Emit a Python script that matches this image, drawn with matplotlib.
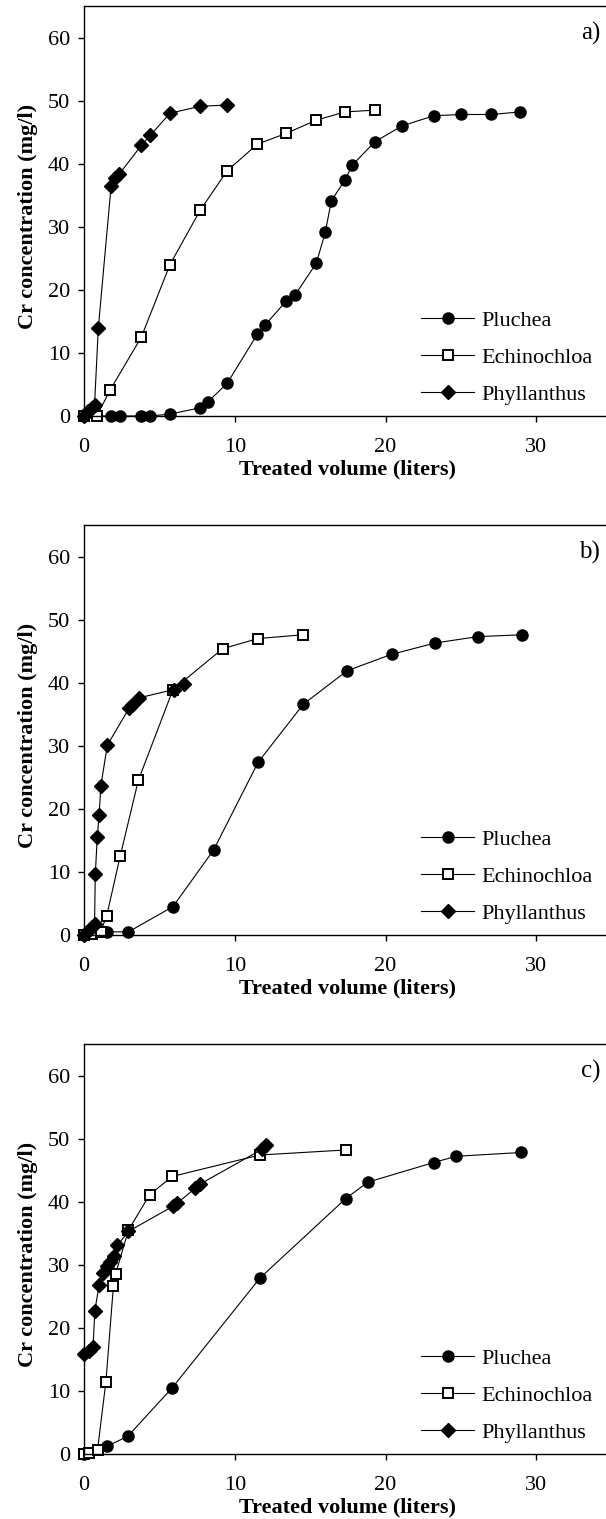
import matplotlib
matplotlib.use("Agg")
import matplotlib.pyplot as plt

plt.rcParams["font.family"] = ["Liberation Serif", "DejaVu Serif"]

# ---- data: Cr breakthrough curves for three plant-based sorbents ----
species = ["Pluchea", "Echinochloa", "Phyllanthus"]
panel_tags = ["a)", "b)", "c)"]

# panel a
a_pluchea_x = [0, 1.8, 2.4, 3.8, 4.4, 5.7, 7.7, 8.2, 9.5, 11.5, 12.0, 13.4, 14.0,
               15.4, 16.0, 16.4, 17.3, 17.8, 19.3, 21.1, 23.2, 25.0, 27.0, 28.9]
a_pluchea_y = [0, 0, 0, 0, 0, 0.3, 1.3, 2.2, 5.2, 13.0, 14.4, 18.2, 19.2,
               24.2, 29.1, 34.1, 37.4, 39.8, 43.5, 46.0, 47.6, 47.8, 47.8, 48.2]
a_echino_x = [0, 0.85, 1.75, 3.8, 5.7, 7.7, 9.5, 11.5, 13.4, 15.4, 17.3, 19.3]
a_echino_y = [0, 0, 4.2, 12.5, 24.0, 32.6, 38.9, 43.1, 44.8, 46.9, 48.2, 48.5]
a_phyll_x = [0, 0.25, 0.5, 0.7, 0.95, 1.8, 2.05, 2.35, 3.8, 4.4, 5.7, 7.7, 9.5]
a_phyll_y = [0, 0.8, 1.3, 1.8, 14.0, 36.5, 37.7, 38.4, 42.9, 44.5, 48.0, 49.1, 49.3]

# panel b
b_pluchea_x = [0, 1.5, 2.95, 5.9, 8.6, 11.55, 14.55, 17.45, 20.4, 23.3, 26.1, 29.05]
b_pluchea_y = [0, 0.5, 0.5, 4.5, 13.5, 27.4, 36.6, 41.9, 44.5, 46.3, 47.3, 47.6]
b_echino_x = [0, 0.5, 1.1, 1.5, 2.4, 3.6, 5.9, 9.2, 11.55, 14.55]
b_echino_y = [0, 0.2, 0.5, 3.0, 12.5, 24.5, 38.9, 45.4, 47.0, 47.6]
b_phyll_x = [0, 0.25, 0.5, 0.7, 0.75, 0.88, 1.0, 1.12, 1.55, 3.0, 3.15, 3.65, 5.95, 6.6]
b_phyll_y = [0, 0.6, 1.2, 1.8, 9.7, 15.5, 19.0, 23.7, 30.1, 36.0, 36.4, 37.6, 38.9, 39.8]

# panel c
c_pluchea_x = [0, 1.5, 2.9, 5.85, 11.67, 17.36, 18.82, 23.18, 24.67, 28.97]
c_pluchea_y = [0, 1.2, 2.8, 10.5, 27.9, 40.5, 43.1, 46.2, 47.2, 47.8]
c_echino_x = [0, 0.3, 0.9, 1.45, 1.95, 2.1, 2.95, 4.35, 5.85, 11.65, 17.36]
c_echino_y = [0, 0.2, 0.7, 11.4, 26.6, 28.6, 35.5, 41.1, 44.0, 47.4, 48.2]
c_phyll_x = [0, 0.35, 0.6, 0.72, 1.0, 1.25, 1.5, 1.75, 2.0, 2.22, 2.95,
             5.92, 6.2, 7.36, 7.7, 11.8, 12.1]
c_phyll_y = [15.8, 16.4, 17.0, 22.7, 26.8, 28.7, 29.8, 30.4, 31.4, 33.1, 35.3,
             39.3, 39.8, 42.1, 42.8, 48.3, 49.0]

x_ticks = [0, 10, 20, 30]
y_ticks = [0, 10, 20, 30, 40, 50, 60]

panels = [
    [(a_pluchea_x, a_pluchea_y), (a_echino_x, a_echino_y), (a_phyll_x, a_phyll_y)],
    [(b_pluchea_x, b_pluchea_y), (b_echino_x, b_echino_y), (b_phyll_x, b_phyll_y)],
    [(c_pluchea_x, c_pluchea_y), (c_echino_x, c_echino_y), (c_phyll_x, c_phyll_y)],
]

# ---- layout (pixel based) ----
W, H = 606, 1519
fig = plt.figure(figsize=(W / 100, H / 100), dpi=100)

left_px = 84
px_per_l = 15.08
ax_w_px = 35 * px_per_l
ax_h_px = 410
axis_bottom_px = [416, 935, 1454]

styles = [
    dict(marker="o", ms=8, mfc="black", mec="black", mew=1.0),
    dict(marker="s", ms=7.8, mfc="white", mec="black", mew=1.4),
    dict(marker="D", ms=7.3, mfc="black", mec="black", mew=1.0),
]

FS = 16

for tag, series, bpx in zip(panel_tags, panels, axis_bottom_px):
    ax = fig.add_axes([left_px / W, (H - bpx) / H, ax_w_px / W, ax_h_px / H])
    for name, (xs, ys), st in zip(species, series, styles):
        ax.plot(xs, ys, color="black", lw=0.8, label=name, clip_on=False, **st)

    ax.set_xlim(0, 35)
    ax.set_ylim(0, 65)
    ax.set_xticks(x_ticks)
    ax.set_yticks(y_ticks)
    ax.spines["right"].set_visible(False)
    for s in ("left", "top", "bottom"):
        ax.spines[s].set_linewidth(1.0)
    ax.tick_params(direction="out", length=4, width=1.0, labelsize=FS)
    ax.tick_params(axis="x", pad=11.5)
    ax.tick_params(axis="y", pad=6)

    ax.set_xlabel("Treated volume (liters)", fontsize=16, fontweight="bold")
    ax.xaxis.set_label_coords(0.5, -43.5 / ax_h_px)
    ax.set_ylabel("Cr concentration (mg/l)", fontsize=16, fontweight="bold")
    ax.yaxis.set_label_coords(-46 / ax_w_px, 0.486)

    ax.text(0.978, 1 - 27 / ax_h_px, tag, transform=ax.transAxes,
            ha="right", va="center", fontsize=18)

    ax.legend(loc="lower left", bbox_to_anchor=((421 - left_px) / ax_w_px, 11 / ax_h_px),
              frameon=False, borderpad=0, borderaxespad=0, handlelength=2.4,
              handletextpad=0.3, labelspacing=0.75, fontsize=FS)

fig.savefig("out.png", dpi=100)
